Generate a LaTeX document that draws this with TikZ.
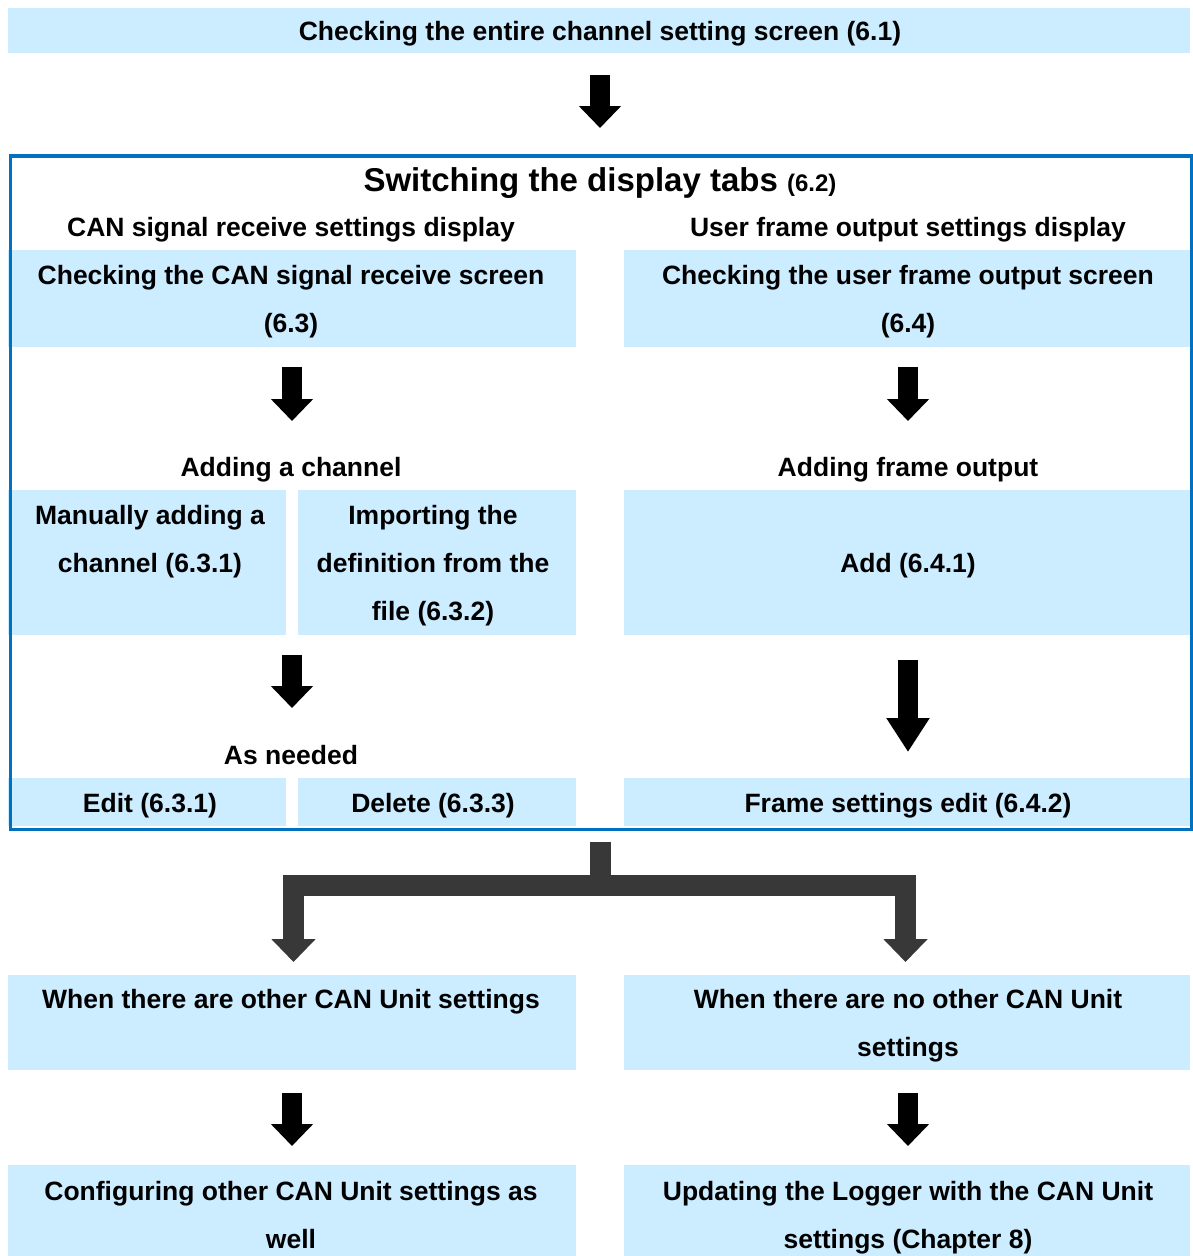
\documentclass[tikz,border=0pt]{standalone}
\usepackage{fontspec}
\setmainfont{Liberation Sans}
\usetikzlibrary{arrows.meta}
\definecolor{boxfill}{HTML}{CCECFF}
\definecolor{frameblue}{HTML}{0070C0}
\definecolor{darkarrow}{HTML}{383838}
\begin{document}
\begin{tikzpicture}[x=1pt,y=-1pt,
  box/.style={fill=boxfill, draw=none, inner sep=0pt, outer sep=0pt, anchor=north west},
  txt/.style={font=\fontsize{26.5}{30}\selectfont\bfseries, inner sep=0pt, anchor=base},
  blk/.style={line width=20pt, line cap=butt, -{Triangle[width=41pt,length=22pt]}},
  blklong/.style={line width=20pt, line cap=butt, -{Triangle[width=41pt,length=34pt]}},
  brn/.style={draw=darkarrow, line width=21pt, line cap=butt, line join=miter},
  brnarrow/.style={brn, -{Triangle[width=43pt,length=23pt]}, darkarrow},
]
\useasboundingbox (0,0) rectangle (1192,1256);

% boxes
\node[box, minimum width=1182pt, minimum height=45pt] (top) at (8,8) {};
\node[box, minimum width=568pt, minimum height=97pt] (canrx) at (8,250) {};
\node[box, minimum width=566pt, minimum height=97pt] (ufo) at (624,250) {};
\node[box, minimum width=278pt, minimum height=145pt] (man) at (8,490) {};
\node[box, minimum width=278pt, minimum height=145pt] (imp) at (298,490) {};
\node[box, minimum width=566pt, minimum height=145pt] (add) at (624,490) {};
\node[box, minimum width=278pt, minimum height=48pt] (edit) at (8,778) {};
\node[box, minimum width=278pt, minimum height=48pt] (del) at (298,778) {};
\node[box, minimum width=566pt, minimum height=48pt] (fse) at (624,778) {};
\node[box, minimum width=568pt, minimum height=95pt] (other) at (8,975) {};
\node[box, minimum width=566pt, minimum height=95pt] (noother) at (624,975) {};
\node[box, minimum width=568pt, minimum height=91pt] (conf) at (8,1165) {};
\node[box, minimum width=566pt, minimum height=91pt] (upd) at (624,1165) {};

% frame
\node[draw=frameblue, line width=3.5pt, inner sep=0pt, minimum width=1181pt, minimum height=673.5pt, anchor=north west] (frame) at (8.5,154) {};

% texts
\node[txt] (tTop) at (600,40.5) {Checking the entire channel setting screen (6.1)};
\node[txt, font=\bfseries] (tTitle) at (600,191.5) {\fontsize{33}{36}\selectfont Switching the display tabs \fontsize{24}{26}\selectfont(6.2)};
\node[txt] (tCanHead) at (291,236.5) {CAN signal receive settings display};
\node[txt] (tUfoHead) at (908,236.5) {User frame output settings display};
\node[txt] (tCan1) at (291,284.5) {Checking the CAN signal receive screen};
\node[txt] (tCan2) at (291,332.5) {(6.3)};
\node[txt] (tUfo1) at (908,284.5) {Checking the user frame output screen};
\node[txt] (tUfo2) at (908,332.5) {(6.4)};
\node[txt] (tAddCh) at (291,476.5) {Adding a channel};
\node[txt] (tAddFr) at (908,476.5) {Adding frame output};
\node[txt] (tMan1) at (150,524.5) {Manually adding a};
\node[txt] (tMan2) at (150,572.5) {channel (6.3.1)};
\node[txt] (tImp1) at (433,524.5) {Importing the};
\node[txt] (tImp2) at (433,572.5) {definition from the};
\node[txt] (tImp3) at (433,620.5) {file (6.3.2)};
\node[txt] (tAdd) at (908,572.5) {Add (6.4.1)};
\node[txt] (tNeed) at (291,764.5) {As needed};
\node[txt] (tEdit) at (150,812.5) {Edit (6.3.1)};
\node[txt] (tDel) at (433,812.5) {Delete (6.3.3)};
\node[txt] (tFse) at (908,812.5) {Frame settings edit (6.4.2)};
\node[txt] (tOther) at (291,1008.5) {When there are other CAN Unit settings};
\node[txt] (tNo1) at (908,1008.5) {When there are no other CAN Unit};
\node[txt] (tNo2) at (908,1056.5) {settings};
\node[txt] (tConf1) at (291,1200.5) {Configuring other CAN Unit settings as};
\node[txt] (tConf2) at (291,1248.5) {well};
\node[txt] (tUpd1) at (908,1200.5) {Updating the Logger with the CAN Unit};
\node[txt] (tUpd2) at (908,1248.5) {settings (Chapter 8)};

% block arrows
\coordinate (a1s) at (600,75);   \coordinate (a1e) at (600,128);
\coordinate (a2s) at (292,367);  \coordinate (a2e) at (292,421);
\coordinate (a3s) at (908,367);  \coordinate (a3e) at (908,421);
\coordinate (a4s) at (292,655);  \coordinate (a4e) at (292,708);
\coordinate (a5s) at (908,660);  \coordinate (a5e) at (908,752);
\coordinate (a6s) at (292,1093); \coordinate (a6e) at (292,1146);
\coordinate (a7s) at (908,1093); \coordinate (a7e) at (908,1146);
\draw[blk] (a1s) -- (a1e);
\draw[blk] (a2s) -- (a2e);
\draw[blk] (a3s) -- (a3e);
\draw[blk] (a4s) -- (a4e);
\draw[blklong] (a5s) -- (a5e);
\draw[blk] (a6s) -- (a6e);
\draw[blk] (a7s) -- (a7e);

% branching arrow
\coordinate (brtop) at (600,842);
\coordinate (brmid) at (600,885.5);
\coordinate (brL) at (293.5,962);
\coordinate (brR) at (905.5,962);
\draw[brnarrow] (brtop) -- (brmid) -| (brL);
\draw[brnarrow] (brtop) -- (brmid) -| (brR);
\end{tikzpicture}
\end{document}
